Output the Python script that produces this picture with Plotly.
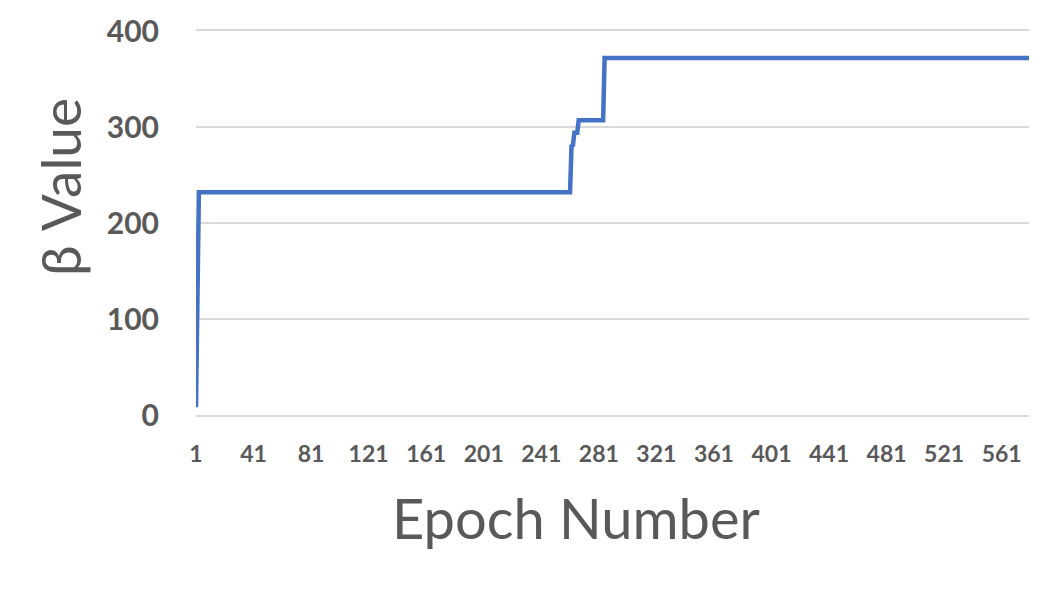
import plotly.graph_objects as go

epochs = [1, 2, 3, 261, 262, 263, 264, 266, 267, 284, 285, 580]
beta_values = [8, 98, 232, 232, 280, 281, 294, 294, 307, 307, 372, 372]

x_tick_vals = [1, 41, 81, 121, 161, 201, 241, 281, 321, 361, 401, 441, 481, 521, 561]
x_tick_text = [str(v) for v in x_tick_vals]
y_tick_vals = [0, 100, 200, 300, 400]

GRAY_TEXT = "#595959"
GRID = "#d9d9d9"
LINE = "#4472C4"

fig = go.Figure()
fig.add_trace(go.Scatter(
    x=epochs, y=beta_values, mode="lines",
    line=dict(color=LINE, width=4.5), showlegend=False, cliponaxis=False,
))

W, H = 1052, 593
OFF = 8  # page body offset
# target plot box in screen pixels
px0, px1, py0, py1 = 195.5, 1029, 31, 415.5
L = px0 - OFF
R = W - (px1 - OFF)
T = py0 - OFF
B = H - (py1 - OFF)

fig.update_layout(
    width=W, height=H,
    margin=dict(l=L, r=R, t=T, b=B, pad=0, autoexpand=False),
    paper_bgcolor="white", plot_bgcolor="white",
    font=dict(family="Lato", color=GRAY_TEXT),
    xaxis=dict(
        range=[1, 580], tickvals=x_tick_vals, ticktext=x_tick_text,
        showgrid=False, zeroline=False, automargin=False,
        showline=True, mirror=True, linecolor=GRID, linewidth=1.5,
        ticks="outside", ticklen=18, tickcolor="rgba(0,0,0,0)",
        tickfont=dict(family="Lato", size=23, color=GRAY_TEXT, weight="bold"),
    ),
    yaxis=dict(
        range=[0, 400], tickvals=y_tick_vals, automargin=False,
        showgrid=True, gridcolor=GRID, gridwidth=1.5, zeroline=False,
        showline=False,
        ticks="outside", ticklen=30, tickcolor="rgba(0,0,0,0)",
        tickfont=dict(family="Lato", size=30, color=GRAY_TEXT, weight="bold"),
    ),
)

pw = px1 - px0
ph = py1 - py0
fig.add_annotation(
    text="Epoch Number", xref="paper", yref="paper",
    x=(576 - px0) / pw, y=(py1 - 518) / ph,
    xanchor="center", yanchor="middle", showarrow=False,
    font=dict(family="Lato", size=56, color=GRAY_TEXT),
)
fig.add_annotation(
    text="β Value", xref="paper", yref="paper",
    x=(60 - px0) / pw, y=(py1 - 187.5) / ph,
    xanchor="center", yanchor="middle", showarrow=False, textangle=-90,
    font=dict(family="Lato", size=55, color=GRAY_TEXT),
)

fig.write_html("out.html")
